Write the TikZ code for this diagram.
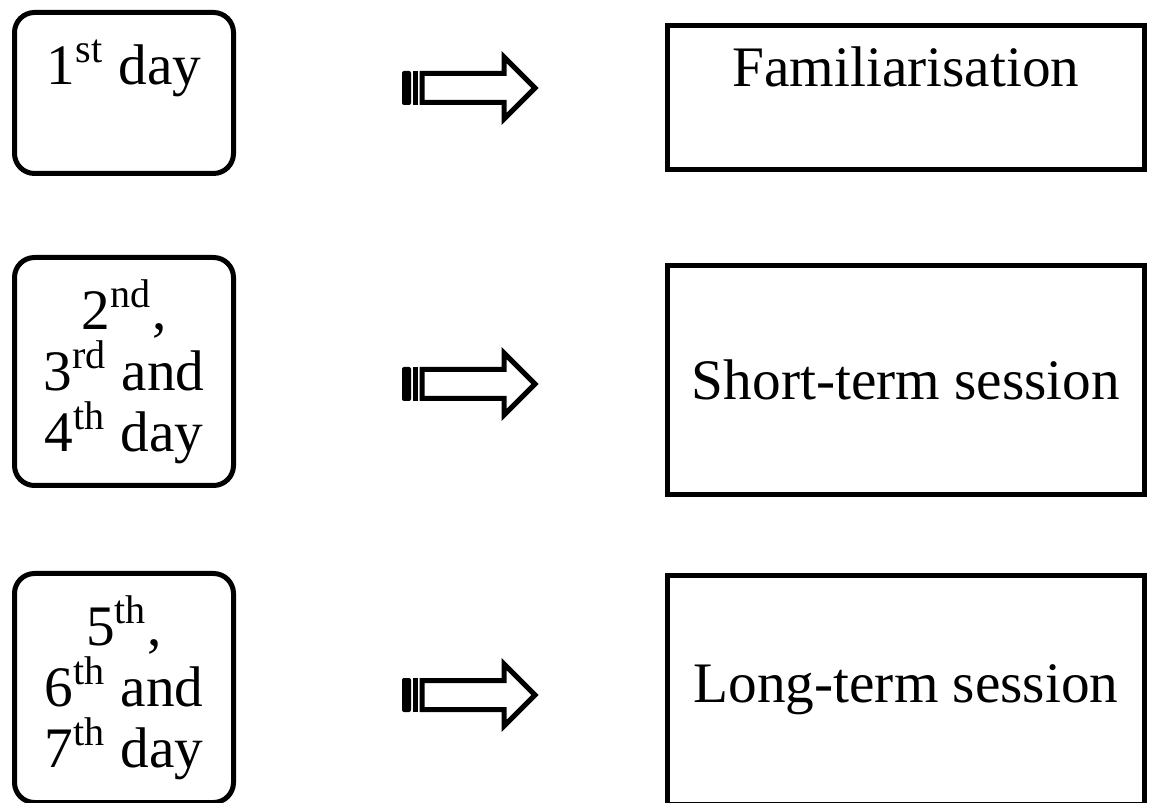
\documentclass[tikz,border=0pt]{standalone}
\usepackage{fontspec}
\setmainfont{Liberation Serif}
\usepackage{tikz}
\usetikzlibrary{positioning,calc}

\begin{document}
\begin{tikzpicture}[
    x=0.1mm,y=-0.1mm,
    day/.style   = {rectangle,rounded corners=2mm,draw=black,line width=0.5mm,
                    align=center,inner sep=0pt,minimum width=21.9mm,
                    font=\fontsize{16.3}{17.3}\selectfont},
    phase/.style = {rectangle,draw=black,line width=0.5mm,align=center,
                    inner sep=0pt,minimum width=47.7mm,
                    font=\fontsize{16.3}{17.3}\selectfont},
    blk/.style   = {draw=black,line width=0.5mm,fill=white,line join=miter},
  ]
  \useasboundingbox (0,0) rectangle (1149,803);

  % days
  \node[day,minimum height=16.1mm] (d1) at (124,93)
       {1\textsuperscript{st} day\\~};
  \node[day,minimum height=22.8mm] (d2) at (124,371.5)
       {2\textsuperscript{nd},\\3\textsuperscript{rd} and\\4\textsuperscript{th} day};
  \node[day,minimum height=22.9mm] (d3) at (124,688)
       {5\textsuperscript{th},\\6\textsuperscript{th} and\\7\textsuperscript{th} day};

  % phases
  \node[phase,minimum height=14.4mm] (p1) at (906,97.5) {Familiarisation\\~};
  \node[phase,minimum height=22.9mm] (p2) at (906,380) {Short-term session};
  \node[phase,minimum height=22.9mm] (p3) at (906,690) {Long-term session};

  % block arrows
  \foreach \n/\c in {a1/88,a2/384,a3/695}{
    \coordinate (\n) at (402,\c);
    \fill[rounded corners=0.2mm] ($(\n)+(0,-17)$) rectangle ($(\n)+(9,17)$);
    \fill ($(\n)+(11,-17)$) rectangle ($(\n)+(16,17)$);
    \draw[blk] ($(\n)+(20,-14.5)$) -- ($(\n)+(102,-14.5)$) -- ($(\n)+(102,-31)$)
          -- ($(\n)+(133,0)$) -- ($(\n)+(102,31)$) -- ($(\n)+(102,14.5)$)
          -- ($(\n)+(20,14.5)$) -- cycle;
  }

\end{tikzpicture}
\end{document}
